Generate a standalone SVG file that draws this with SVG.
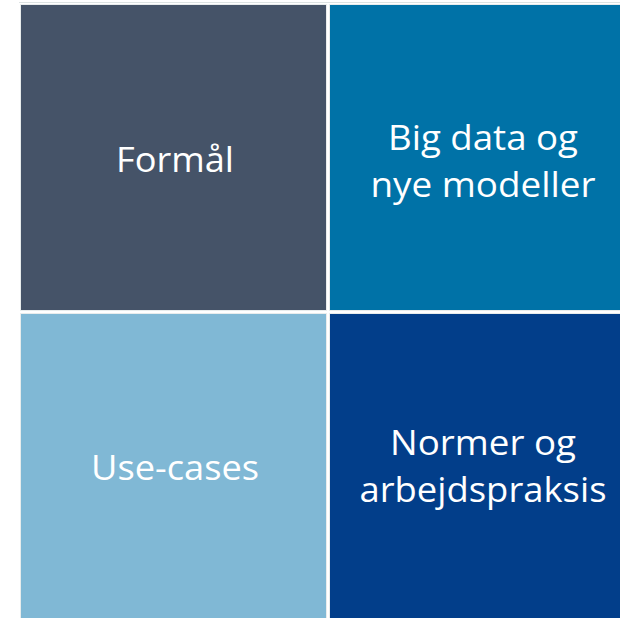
<svg xmlns="http://www.w3.org/2000/svg" width="620" height="618" viewBox="0 0 620 618">
<style>
.t{font-family:"Open Sans","Liberation Sans",sans-serif;font-size:34px;fill:#ffffff;text-anchor:middle}
.b{stroke:#e8ecec;stroke-width:1}
</style>
<rect width="620" height="618" fill="#ffffff"/>
<line x1="19" y1="2.5" x2="620" y2="2.5" stroke="#dde3e3" stroke-width="1"/>
<g id="formal">
<rect class="b" x="20.5" y="4.5" width="306" height="306" fill="#455368"/>
<text class="t" x="175" y="172" textLength="118" lengthAdjust="spacingAndGlyphs">Formål</text>
</g>
<g id="bigdata">
<rect class="b" x="329.5" y="4.5" width="306" height="306" fill="#0072A7"/>
<text class="t" x="483" y="150" textLength="190" lengthAdjust="spacingAndGlyphs">Big data og</text>
<text class="t" x="483" y="197" textLength="225" lengthAdjust="spacingAndGlyphs">nye modeller</text>
</g>
<g id="usecases">
<rect class="b" x="20.5" y="313.5" width="306" height="306" fill="#80B8D5"/>
<text class="t" x="175" y="480" textLength="168" lengthAdjust="spacingAndGlyphs">Use-cases</text>
</g>
<g id="normer">
<rect class="b" x="329.5" y="313.5" width="306" height="306" fill="#023E8A"/>
<text class="t" x="483" y="455" textLength="186" lengthAdjust="spacingAndGlyphs">Normer og</text>
<text class="t" x="483" y="502" textLength="247" lengthAdjust="spacingAndGlyphs">arbejdspraksis</text>
</g>
<g id="connectors"/>
</svg>
